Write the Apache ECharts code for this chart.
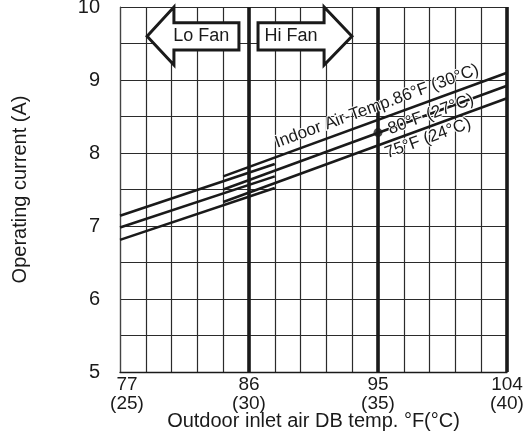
<!DOCTYPE html>
<html><head><meta charset="utf-8">
<script src="https://cdn.jsdelivr.net/npm/echarts@6/dist/echarts.min.js"></script>
<style>html,body{margin:0;padding:0;background:#fff}#c{width:525px;height:444px}</style>
</head><body><div id="c"></div>
<script>
// ---- data (x in °C, y in A) ----
const xTicksC = [25, 30, 35, 40];
const xTicksF = [77, 86, 95, 104];
const loFanX = [25, 31];
const hiFanX = [29, 40];
const lo86 = [7.14, 7.85];
const lo80 = [6.98, 7.68];
const lo75 = [6.81, 7.52];
const hi86 = [7.68, 9.10];
const hi80 = [7.50, 8.92];
const hi75 = [7.33, 8.75];
const ratedPoint = [35, 8.28];
const fanBoundaries = [30, 35, 40];
const lineLabels = ['Indoor Air-Temp.86°F (30°C)', '80°F (27°C)', '75°F (24°C)'];
const fanLabels = ['Lo Fan', 'Hi Fan'];

// ---- annotation placement (data coordinates) ----
const LABEL_AT = [[34.96, 8.64], [37.05, 8.53], [36.94, 8.20]];
const ARROW = { lo: { tip: 26.05, back: 27.09, end: 29.61 },
                hi: { start: 30.35, back: 32.91, tip: 33.99 },
                headTop: 10.0, bodyTop: 9.785, mid: 9.60, bodyBot: 9.41, headBot: 9.205 };

const INK = '#1a1a1a';
const FONT = '"Liberation Sans", Arial, Helvetica, sans-serif';

function seg(xs, ys) {
  return { type: 'line', data: xs.map((x, i) => [x, ys[i]]), symbol: 'none', silent: true,
           lineStyle: { color: INK, width: 2.6 }, z: 5, animation: false };
}

function renderAnno(params, api) {
  const P = (x, y) => api.coord([x, y]);
  const A = ARROW;
  const loPts = [P(A.lo.tip, A.mid), P(A.lo.back, A.headTop), P(A.lo.back, A.bodyTop), P(A.lo.end, A.bodyTop),
                 P(A.lo.end, A.bodyBot), P(A.lo.back, A.bodyBot), P(A.lo.back, A.headBot)];
  const hiPts = [P(A.hi.tip, A.mid), P(A.hi.back, A.headTop), P(A.hi.back, A.bodyTop), P(A.hi.start, A.bodyTop),
                 P(A.hi.start, A.bodyBot), P(A.hi.back, A.bodyBot), P(A.hi.back, A.headBot)];
  const arrowStyle = { fill: '#fff', stroke: INK, lineWidth: 3, lineJoin: 'miter' };
  const children = [
    { type: 'polygon', shape: { points: loPts }, style: arrowStyle },
    { type: 'polygon', shape: { points: hiPts }, style: arrowStyle }
  ];
  const loC = P((A.lo.back + A.lo.end) / 2 - 0.2, A.mid);
  const hiC = P((A.hi.start + A.hi.back) / 2, A.mid);
  children.push({ type: 'text', x: loC[0], y: loC[1], style: { text: fanLabels[0], fill: INK, font: '18px ' + FONT, align: 'center', verticalAlign: 'middle' } });
  children.push({ type: 'text', x: hiC[0], y: hiC[1], style: { text: fanLabels[1], fill: INK, font: '18px ' + FONT, align: 'center', verticalAlign: 'middle' } });
  const p1 = P(hiFanX[0], hi86[0]), p2 = P(hiFanX[1], hi86[1]);
  const rot = Math.atan2(p1[1] - p2[1], p2[0] - p1[0]);
  LABEL_AT.forEach((pt, i) => {
    const c = P(pt[0], pt[1]);
    children.push({ type: 'text', x: c[0], y: c[1], rotation: rot,
      style: { text: lineLabels[i], fill: INK, font: '17px ' + FONT, align: 'center', verticalAlign: 'middle',
               stroke: '#fff', lineWidth: 2 } });
  });
  return { type: 'group', children: children };
}

const chart = echarts.init(document.getElementById('c'), null, { renderer: 'canvas' });
chart.setOption({
  animation: false,
  backgroundColor: '#fff',
  grid: { left: 120, right: 18, top: 7, bottom: 72, containLabel: false, outerBoundsMode: 'none' },
  xAxis: {
    type: 'value', min: 25, max: 40, interval: 1,
    name: 'Outdoor inlet air DB temp. °F(°C)', nameLocation: 'middle', nameGap: 39, nameMoveOverlap: false,
    nameTextStyle: { color: INK, fontSize: 20, fontFamily: FONT },
    axisLine: { show: true, lineStyle: { color: INK, width: 1.3 } },
    axisTick: { show: false },
    splitLine: { show: true, lineStyle: { color: '#2b2b2b', width: 1.2 } },
    axisLabel: {
      color: INK, fontSize: 19, fontFamily: FONT, lineHeight: 19, margin: 3, showMinLabel: true, showMaxLabel: true,
      formatter: v => {
        const i = xTicksC.indexOf(v);
        if (i < 0) return '';
        if (i === 0) return '{s|' + xTicksF[i] + '}\n{s|(' + xTicksC[i] + ')}';
        return xTicksF[i] + '\n(' + xTicksC[i] + ')';
      },
      rich: { s: { fontSize: 19, fontFamily: FONT, color: INK, lineHeight: 19, padding: [0, 0, 0, 14] } }
    }
  },
  yAxis: {
    type: 'value', min: 5, max: 10, interval: 0.5,
    name: 'Operating current (A)', nameLocation: 'middle', nameGap: 90, nameRotate: 90, nameMoveOverlap: false,
    nameTextStyle: { color: INK, fontSize: 20, fontFamily: FONT },
    axisLine: { show: true, lineStyle: { color: '#444', width: 1.2 } },
    axisTick: { show: false },
    splitLine: { show: true, lineStyle: { color: '#2b2b2b', width: 1.2 } },
    axisLabel: { color: INK, fontSize: 20, fontFamily: FONT, margin: 20,
                 formatter: v => (Number.isInteger(v) ? String(v) : '') }
  },
  series: [
    { type: 'line', data: [], silent: true, symbol: 'none',
      markLine: { silent: true, symbol: 'none', label: { show: false },
                  lineStyle: { color: INK, width: 3.6, type: 'solid' },
                  data: fanBoundaries.map(x => ({ xAxis: x })) } },
    seg(loFanX, lo86), seg(loFanX, lo80), seg(loFanX, lo75),
    seg(hiFanX, hi86), seg(hiFanX, hi80), seg(hiFanX, hi75),
    { type: 'scatter', data: [ratedPoint], symbolSize: 9, itemStyle: { color: INK }, z: 6, silent: true },
    { type: 'custom', coordinateSystem: 'cartesian2d', data: [[30, 7]], renderItem: renderAnno, z: 10, silent: true, clip: false }
  ]
});
</script></body></html>
